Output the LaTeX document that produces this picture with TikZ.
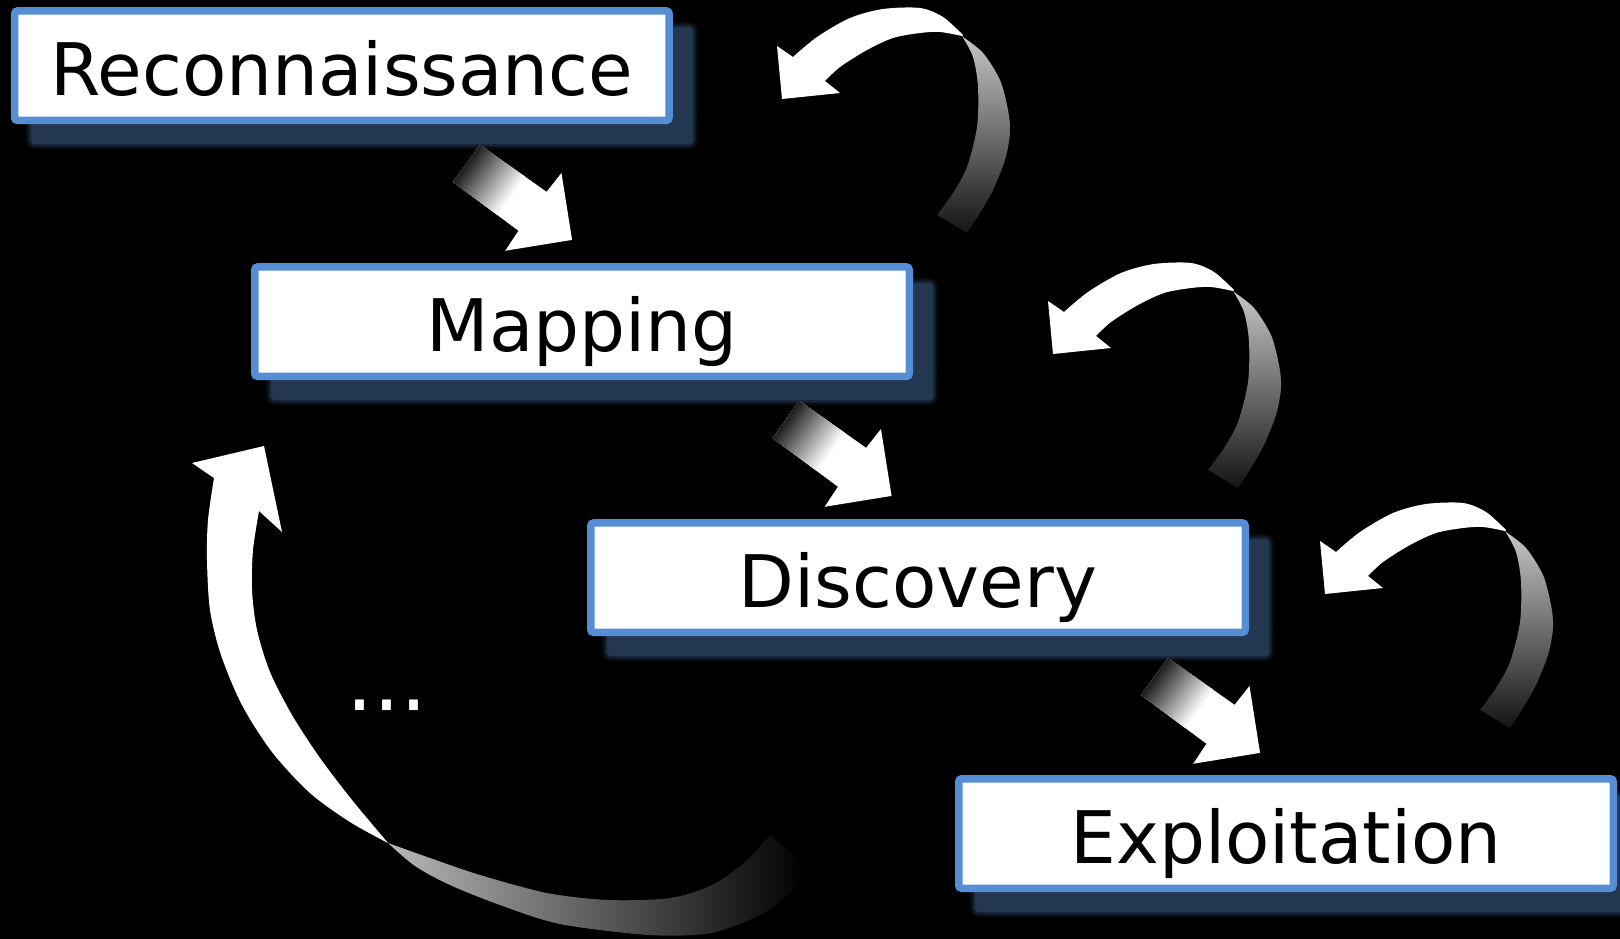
\documentclass[tikz,border=0pt]{standalone}
\usepackage{fontspec}
\setmainfont{DejaVu Sans}
\usetikzlibrary{calc}
\definecolor{boxblue}{RGB}{85,142,213}
\definecolor{shadowblue}{RGB}{35,55,82}
\pgfdeclarelayer{back}
\pgfsetlayers{back,main}
\newcommand{\gradArrow}[1]{%
  \begin{scope}[shift={#1}, rotate=-35.9]
    \begin{scope}
      \clip (0,-23) -- (81.5,-24) -- (82.5,-48) -- (130.3,0) -- (82.5,48) -- (81.5,24) -- (0,23) -- cycle;
      \fill[white] (-5,-60) rectangle (140,60);
      \foreach \i in {0,...,27} {
        \pgfmathsetmacro\pc{10+\i*90/28}
        \fill[white!\pc!black] ({\i*2-1},-60) rectangle ({\i*2+1.4},60);
      }
    \end{scope}
  \end{scope}}
\newcommand{\loopArrow}[1]{%
  \begin{scope}[shift={#1}]
    \fill[white] (777,46) -- plot[smooth] coordinates {(793,57) (817,37) (850,18) (883,9) (920,8) (943,17) (963,35)}
      -- plot[smooth] coordinates {(962,36) (940,32) (920,33) (893,38) (867,50) (840,67) (825,81)}
      -- (840,93) -- (782,99) -- cycle;
    \shade[top color=white!78!black, middle color=white!45!black, bottom color=black!92!white]
      (962,36) -- plot[smooth] coordinates {(962,36) (973,57) (978,87) (977,127) (967,167) (953,193) (937,215)}
      -- (967,233) -- plot[smooth] coordinates {(967,233) (980,213) (993,190) (1005,160) (1010,133) (1008,110) (1000,80) (983,53) (963,37)} -- cycle;
  \end{scope}}
\begin{document}
\begin{tikzpicture}[x=1pt,y=-1pt,
  box/.style={draw=boxblue, line width=7.5pt, rounded corners=3pt, fill=white,
    minimum width=654.5pt, minimum height=109.5pt, inner sep=0pt,
    font=\fontsize{72.5}{80}\selectfont, text height=59pt, text depth=0pt, text=black},
  boxshadow/.style={fill=shadowblue, rounded corners=4pt},
  dotstyle/.style={text=white, inner sep=0pt, font=\fontsize{85}{90}\selectfont}]
\useasboundingbox (0,0) rectangle (1620,939);
\begin{pgfonlayer}{back}
  \fill[black] (0,0) rectangle (1620,939);
\end{pgfonlayer}

\node[box] (recon) at (341.85,65.65) {Reconnaissance};
\node[box] (mapping) at (582,321.65) {Mapping};
\node[box] (discovery) at (918,577.65) {Discovery};
\node[box] (exploit) at (1286,833.5) {Exploitation};

\begin{pgfonlayer}{back}
  \foreach \n in {recon,mapping,discovery,exploit} {
    \draw[boxshadow, draw=shadowblue, draw opacity=0.25, line width=10pt] ($(\n.north west)+(20,20)$) rectangle ($(\n.south east)+(20,20)$);
    \draw[boxshadow, draw=shadowblue, draw opacity=0.5, line width=5pt] ($(\n.north west)+(20,20)$) rectangle ($(\n.south east)+(20,20)$);
  }
\end{pgfonlayer}

% forward arrows
\gradArrow{(466.5,163.5)}
\gradArrow{(786,419.5)}
\gradArrow{(1154.5,676.5)}

% repeat loops
\loopArrow{(0,0)}
\loopArrow{(271,255)}
\loopArrow{(543,495)}

% big return loop
\fill[white] (192,463) -- (264,446) -- (282,532) -- (259,511)
  -- plot[smooth] coordinates {(259,511) (253,550) (252,590) (257,630) (270,672) (292,715) (320,758) (352,800) (388,843)}
  -- plot[smooth] coordinates {(388,843) (350,822) (310,793) (272,752) (242,705) (221,655) (210,610) (207,560) (208,520) (214,478)}
  -- cycle;
\shade[left color=white!72!black, right color=black]
  (388,843) -- plot[smooth] coordinates {(388,843) (415,866) (450,885) (500,905) (560,924) (649,935) (711,933) (760,915) (790,893) (806,866)}
  -- (770,835) -- plot[smooth] coordinates {(770,835) (745,862) (712,885) (670,898) (609,900) (547,893) (480,875) (430,858) (388,843)} -- cycle;

\node[dotstyle] (dots) at (387,705) {...};
\end{tikzpicture}
\end{document}
